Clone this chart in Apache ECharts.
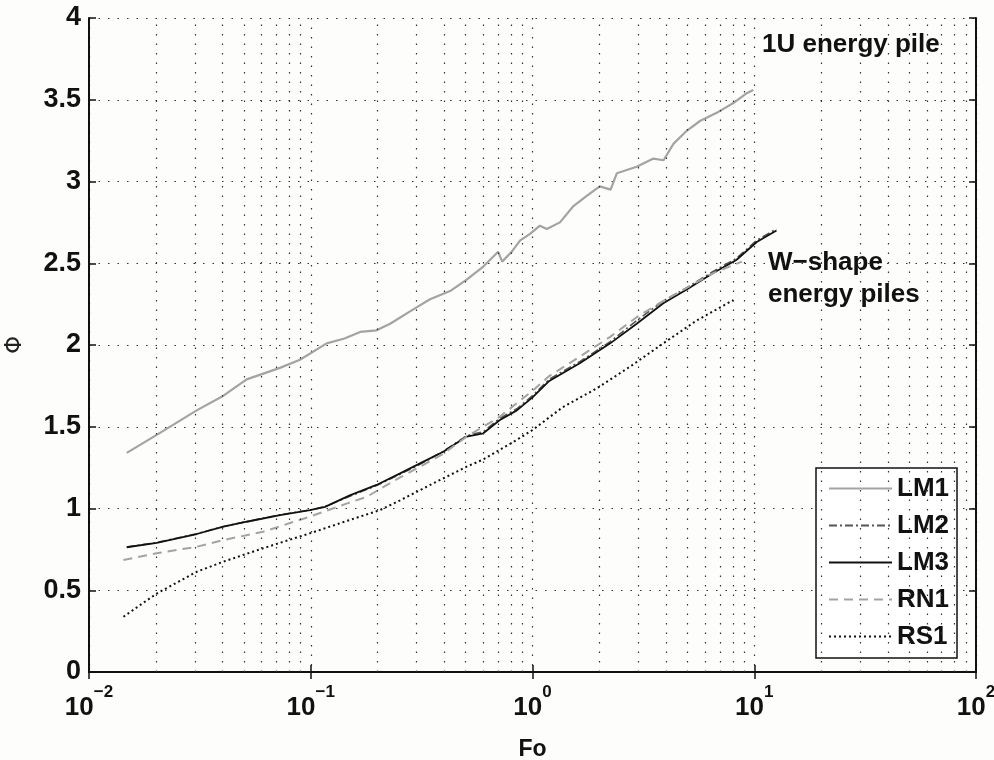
<!DOCTYPE html>
<html>
<head>
<meta charset="utf-8">
<title>Phi vs Fo</title>
<script src="https://cdn.jsdelivr.net/npm/echarts@6/dist/echarts.min.js"></script>
<style>
  html, body { margin: 0; padding: 0; background: #fdfdfc; }
  #main { width: 994px; height: 760px; }
</style>
</head>
<body>
<div id="main"></div>
<script>
// values (Fo on a log axis, Phi linear)
var lm1Fo  = [0.0148, 0.0202, 0.0306, 0.0404, 0.0514, 0.0726, 0.0894, 0.118, 0.142, 0.167, 0.198, 0.228, 0.300, 0.345, 0.425, 0.505, 0.60, 0.70, 0.73, 0.805, 0.88, 0.975, 1.08, 1.16, 1.33, 1.53, 1.75, 2.01, 2.25, 2.40, 2.95, 3.51, 3.9, 4.32, 4.96, 5.69, 6.77, 8.05, 9.25, 9.9];
var lm1Phi = [1.34, 1.45, 1.60, 1.69, 1.79, 1.86, 1.91, 2.01, 2.04, 2.08, 2.09, 2.13, 2.23, 2.28, 2.33, 2.40, 2.48, 2.57, 2.51, 2.57, 2.64, 2.68, 2.73, 2.71, 2.75, 2.85, 2.91, 2.97, 2.95, 3.05, 3.09, 3.14, 3.13, 3.23, 3.31, 3.37, 3.42, 3.48, 3.54, 3.56];

var lmFo   = [0.0148, 0.0202, 0.0306, 0.0404, 0.0514, 0.0727, 0.0991, 0.116, 0.150, 0.198, 0.253, 0.311, 0.396, 0.505, 0.60, 0.71, 0.85, 1.0, 1.19, 1.64, 2.24, 2.95, 3.89, 4.96, 6.53, 8.3, 10.26, 12.6];
var lm2Phi = [0.765, 0.792, 0.846, 0.89, 0.92, 0.962, 0.99, 1.012, 1.075, 1.14, 1.21, 1.27, 1.35, 1.445, 1.47, 1.55, 1.61, 1.69, 1.79, 1.90, 2.02, 2.15, 2.27, 2.35, 2.45, 2.53, 2.64, 2.71];
var lm3Phi = [0.763, 0.79, 0.844, 0.889, 0.919, 0.96, 0.99, 1.01, 1.08, 1.144, 1.215, 1.276, 1.347, 1.44, 1.46, 1.54, 1.60, 1.68, 1.78, 1.89, 2.01, 2.13, 2.255, 2.34, 2.44, 2.52, 2.63, 2.70];

var rn1Fo  = [0.0143, 0.0202, 0.0306, 0.0404, 0.061, 0.099, 0.145, 0.178, 0.253, 0.311, 0.396, 0.505, 0.71, 1.0, 1.19, 1.64, 2.24, 2.95, 3.89, 4.96, 6.53, 8.8];
var rn1Phi = [0.685, 0.726, 0.766, 0.807, 0.858, 0.95, 1.03, 1.07, 1.19, 1.255, 1.335, 1.44, 1.56, 1.72, 1.81, 1.93, 2.05, 2.17, 2.27, 2.35, 2.44, 2.51];

var rs1Fo  = [0.0143, 0.0202, 0.0306, 0.0404, 0.061, 0.099, 0.150, 0.205, 0.253, 0.357, 0.505, 0.60, 0.85, 1.0, 1.37, 1.95, 2.75, 3.89, 5.5, 8.05];
var rs1Phi = [0.338, 0.48, 0.613, 0.675, 0.757, 0.848, 0.93, 0.99, 1.05, 1.154, 1.256, 1.30, 1.42, 1.48, 1.62, 1.735, 1.867, 2.01, 2.15, 2.275];

var yTicks = [0, 0.5, 1, 1.5, 2, 2.5, 3, 3.5, 4];

function pairs(xs, ys) {
  return xs.map(function (x, i) { return [x, ys[i]]; });
}

// minor log grid lines at 2..9 x 10^k
var minorLines = [];
for (var k = -2; k <= 1; k++) {
  for (var m = 2; m <= 9; m++) {
    minorLines.push({ xAxis: m * Math.pow(10, k) });
  }
}

var font = "'Liberation Sans', Arial, sans-serif";
var gridDots = { color: '#333', width: 1.2, type: [1.5, 8] };

var myChart = echarts.init(document.getElementById('main'));

myChart.setOption({
  backgroundColor: '#fdfdfc',
  animation: false,
  textStyle: { fontFamily: font },
  grid: { left: 89, right: 18, top: 18, bottom: 88, containLabel: false, outerBoundsMode: 'none' },
  legend: {
    orient: 'vertical',
    left: 816,
    top: 468,
    padding: [7, 8, 8, 12],
    backgroundColor: '#ffffff',
    borderColor: '#111',
    borderWidth: 1.5,
    borderRadius: 0,
    itemWidth: 63,
    itemHeight: 14,
    itemGap: 10,
    itemStyle: { opacity: 0 },
    textStyle: { fontFamily: font, fontWeight: 'bold', fontSize: 26, color: '#111', lineHeight: 27 },
    data: ['LM1', 'LM2', 'LM3', 'RN1', 'RS1']
  },
  xAxis: [
    {
      type: 'log',
      logBase: 10,
      min: 0.01,
      max: 100,
      name: 'Fo',
      nameLocation: 'middle',
      nameGap: 66,
      nameTextStyle: { fontFamily: font, fontWeight: 'bold', fontSize: 23, color: '#111' },
      axisLine: { lineStyle: { color: '#111', width: 2 } },
      axisTick: { inside: true, length: 7, lineStyle: { color: '#111', width: 1.5 } },
      axisLabel: {
        margin: 12,
        formatter: function (v) {
          var e = Math.round(Math.log10(v));
          return '{b|10}{s|' + (e < 0 ? '\u2212' + (-e) : e) + '}';
        },
        rich: {
          b: { fontFamily: font, fontWeight: 'bold', fontSize: 26, color: '#111' },
          s: { fontFamily: font, fontWeight: 'bold', fontSize: 17, color: '#111', padding: [0, 0, 30, 0] }
        }
      },
      splitLine: { show: true, lineStyle: gridDots }
    },
    {
      type: 'log',
      logBase: 10,
      min: 0.01,
      max: 100,
      position: 'top',
      axisLine: { lineStyle: { color: '#111', width: 2 } },
      axisTick: { inside: true, length: 7, lineStyle: { color: '#111', width: 1.5 } },
      axisLabel: { show: false },
      splitLine: { show: false }
    }
  ],
  yAxis: [
    {
      type: 'value',
      min: 0,
      max: 4,
      interval: 0.5,
      name: '\u03A6',
      nameLocation: 'middle',
      nameGap: 62,
      nameRotate: 90,
      nameTextStyle: { fontFamily: "'DejaVu Sans', sans-serif", fontSize: 23, color: '#222' },
      axisLine: { show: true, lineStyle: { color: '#111', width: 2 } },
      axisTick: { show: true, inside: true, length: 7, lineStyle: { color: '#111', width: 1.5 } },
      axisLabel: {
        margin: 8,
        fontFamily: font,
        fontWeight: 'bold',
        fontSize: 27,
        color: '#111',
        formatter: function (v) { return yTicks.indexOf(v) >= 0 ? String(v) : ''; }
      },
      splitLine: { show: true, lineStyle: gridDots }
    },
    {
      type: 'value',
      min: 0,
      max: 4,
      interval: 0.5,
      position: 'right',
      axisLine: { show: true, lineStyle: { color: '#111', width: 2 } },
      axisTick: { show: true, inside: true, length: 7, lineStyle: { color: '#111', width: 1.5 } },
      axisLabel: { show: false },
      splitLine: { show: false }
    }
  ],
  graphic: [
    { type: 'text', left: 762, top: 32, style: { text: '1U energy pile', fontFamily: font, fontWeight: 'bold', fontSize: 26, fill: '#111' } },
    { type: 'text', left: 768, top: 250, style: { text: 'W\u2212shape', fontFamily: font, fontWeight: 'bold', fontSize: 26, fill: '#111' } },
    { type: 'text', left: 768, top: 282, style: { text: 'energy piles', fontFamily: font, fontWeight: 'bold', fontSize: 26, fill: '#111' } }
  ],
  series: [
    {
      name: 'minor-grid',
      type: 'line',
      data: [],
      silent: true,
      markLine: {
        silent: true,
        symbol: ['none', 'none'],
        label: { show: false },
        lineStyle: gridDots,
        data: minorLines,
        animation: false
      }
    },
    {
      name: 'LM1',
      type: 'line',
      showSymbol: false,
      symbol: 'none',
      data: pairs(lm1Fo, lm1Phi),
      itemStyle: { color: '#a3a3a3' },
      lineStyle: { color: '#a3a3a3', width: 2.2 }
    },
    {
      name: 'LM2',
      type: 'line',
      showSymbol: false,
      symbol: 'none',
      data: pairs(lmFo, lm2Phi),
      itemStyle: { color: '#555' },
      lineStyle: { color: '#555', width: 1.6, type: [8, 3, 2, 3] }
    },
    {
      name: 'LM3',
      type: 'line',
      showSymbol: false,
      symbol: 'none',
      data: pairs(lmFo, lm3Phi),
      itemStyle: { color: '#111' },
      lineStyle: { color: '#111', width: 1.8 }
    },
    {
      name: 'RN1',
      type: 'line',
      showSymbol: false,
      symbol: 'none',
      data: pairs(rn1Fo, rn1Phi),
      itemStyle: { color: '#a3a3a3' },
      lineStyle: { color: '#a3a3a3', width: 2, type: [9, 6] }
    },
    {
      name: 'RS1',
      type: 'line',
      showSymbol: false,
      symbol: 'none',
      data: pairs(rs1Fo, rs1Phi),
      itemStyle: { color: '#111' },
      lineStyle: { color: '#111', width: 2, type: [2, 3] }
    }
  ]
});

window.addEventListener('resize', function () { myChart.resize(); });
</script>
</body>
</html>
